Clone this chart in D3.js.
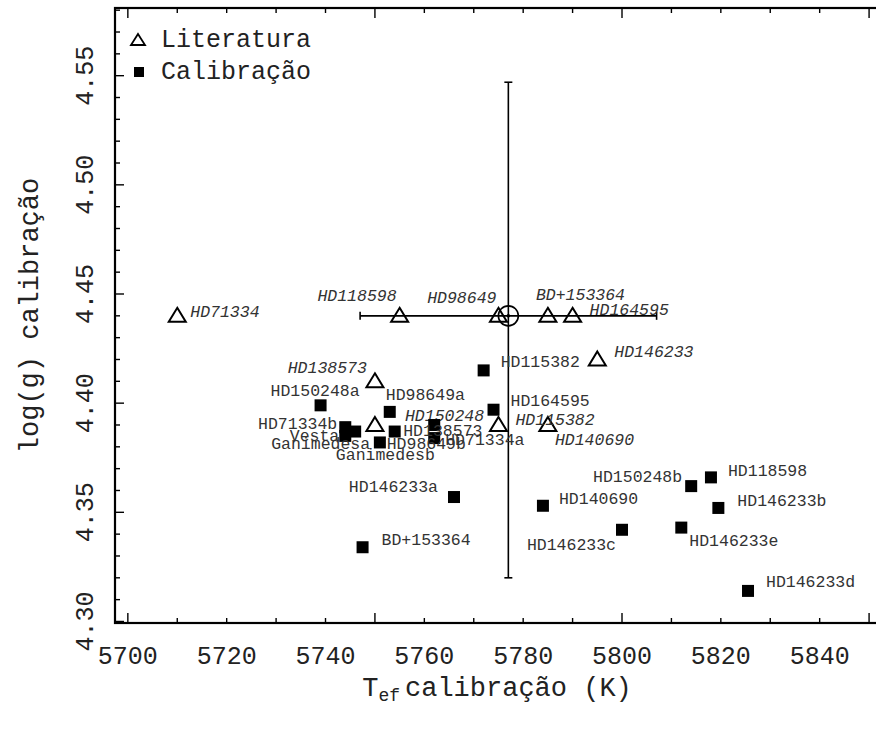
<!DOCTYPE html>
<html>
<head>
<meta charset="utf-8">
<script src="https://cdn.jsdelivr.net/npm/d3@7"></script>
<style>
  html, body { margin: 0; padding: 0; background: #fff; }
  svg { display: block; }
  text { font-family: "Liberation Mono", "DejaVu Sans Mono", monospace; }
</style>
</head>
<body>
<svg id="chart" width="876" height="730"></svg>
<script>
// Literature values (triangles)
const litNames = ["HD71334", "HD118598", "HD98649", "BD+153364", "HD164595", "HD146233",
                  "HD138573", "HD150248", "HD115382", "HD140690"];
const litTeff  = [5710, 5755, 5775, 5785, 5790, 5795, 5750, 5750, 5775, 5785];
const litLogg  = [4.44, 4.44, 4.44, 4.44, 4.44, 4.42, 4.41, 4.39, 4.39, 4.39];

// Calibrated values (filled squares)
const calNames = ["HD115382", "HD164595", "HD150248a", "HD98649a", "HD71334b", "Vesta",
                  "Ganimedesa", "Ganimedesb", "HD98649b", "HD138573", "HD71334a",
                  "HD146233a", "BD+153364", "HD140690", "HD146233c", "HD146233e",
                  "HD150248b", "HD118598", "HD146233b", "HD146233d"];
const calTeff  = [5772, 5774, 5739, 5753, 5744, 5744, 5746, 5751, 5754, 5762, 5762,
                  5766, 5747.5, 5784, 5800, 5812, 5814, 5818, 5819.5, 5825.5];
const calLogg  = [4.415, 4.397, 4.399, 4.396, 4.389, 4.385, 4.387, 4.382, 4.387, 4.390, 4.384,
                  4.357, 4.334, 4.353, 4.342, 4.343, 4.362, 4.366, 4.352, 4.314];

// Solar reference point with its uncertainty bars
const sunTeff = 5777, sunLogg = 4.44;
const sunTeffRange = [5747, 5807];
const sunLoggRange = [4.32, 4.547];

// Axis ticks
const xLabelTicks = [5700, 5720, 5740, 5760, 5780, 5800, 5820, 5840];
const xMajorTicks = [5700, 5750, 5800, 5850];
const xMinorTicks = d3.range(5700, 5851, 10);
const yLabelTicks = [4.30, 4.35, 4.40, 4.45, 4.50, 4.55];
const yMinorTicks = d3.range(430, 459, 1).map(v => v / 100);

// Label placement around each marker: [anchor, dx, dy]
const litPlace = {
  "HD71334": ["start", 13, 1], "HD118598": ["end", -3, -15], "HD98649": ["end", -2, -13],
  "BD+153364": ["start", -12, -16], "HD164595": ["start", 17, -1], "HD146233": ["start", 17, -2],
  "HD138573": ["end", -8, -8], "HD150248": ["start", 30, -4], "HD115382": ["start", 17, 0],
  "HD140690": ["start", 7, 20]
};
const calPlace = {
  "HD115382": ["start", 17, -3], "HD164595": ["start", 17, -4], "HD150248a": ["start", -50, -9],
  "HD98649a": ["start", -4, -12], "HD71334b": ["end", -8, 2], "Vesta": ["end", -6, 5],
  "Ganimedesa": ["start", -84, 17], "Ganimedesb": ["start", -44, 18], "HD98649b": ["start", -8, 17],
  "HD138573": ["start", -31, 11], "HD71334a": ["start", 11, 7], "HD146233a": ["end", -16, -5],
  "BD+153364": ["start", 19, -2], "HD140690": ["start", 16, -2], "HD146233c": ["end", -6, 20],
  "HD146233e": ["start", 8, 18], "HD150248b": ["end", -9, -4], "HD118598": ["start", 17, -1],
  "HD146233b": ["start", 19, -2], "HD146233d": ["start", 18, -4]
};

const svg = d3.select("#chart");
const plotLeft = 115, plotTop = 8, plotBottom = 623, plotRight = 876;

const x = d3.scaleLinear().domain([5697.4, 5851.4]).range([plotLeft, plotRight]);
const y = d3.scaleLinear().domain([4.2993, 4.581]).range([plotBottom, plotTop]);

// Frame (right side runs past the visible area)
svg.append("rect")
  .attr("x", plotLeft).attr("y", plotTop)
  .attr("width", plotRight + 10 - plotLeft).attr("height", plotBottom - plotTop)
  .attr("fill", "none").attr("stroke", "#000").attr("stroke-width", 2.2);

const ticks = svg.append("g").attr("stroke", "#000").attr("stroke-width", 1.4);
// x ticks on bottom and top, pointing inward
xMinorTicks.forEach(t => {
  const len = xMajorTicks.includes(t) ? 10 : 5;
  ticks.append("line").attr("x1", x(t)).attr("x2", x(t)).attr("y1", plotBottom).attr("y2", plotBottom - len);
  ticks.append("line").attr("x1", x(t)).attr("x2", x(t)).attr("y1", plotTop).attr("y2", plotTop + len);
});
// y ticks on the left, pointing inward
yMinorTicks.forEach(t => {
  const major = yLabelTicks.some(v => Math.abs(v - t) < 1e-6);
  const len = major ? 9 : 5;
  ticks.append("line").attr("x1", plotLeft).attr("x2", plotLeft + len).attr("y1", y(t)).attr("y2", y(t));
});

// Tick labels
svg.append("g").selectAll("text").data(xLabelTicks).join("text")
  .attr("x", d => x(d)).attr("y", 664)
  .attr("text-anchor", "middle").attr("font-size", 25).attr("fill", "#222")
  .text(d => d);
svg.append("g").selectAll("text").data(yLabelTicks).join("text")
  .attr("transform", d => `translate(93,${y(d)}) rotate(-90)`)
  .attr("text-anchor", "middle").attr("font-size", 25).attr("fill", "#222")
  .text(d => d.toFixed(2));

// Axis titles
const xt = svg.append("text")
  .attr("x", 497).attr("y", 696).attr("text-anchor", "middle")
  .attr("font-size", 27).attr("fill", "#222");
xt.append("tspan").text("T");
xt.append("tspan").attr("font-size", 18).attr("dy", 5).text("ef");
xt.append("tspan").attr("dx", 5).attr("dy", -5).text("calibração (K)");

svg.append("text")
  .attr("transform", `translate(38,${(plotTop + plotBottom) / 2}) rotate(-90)`)
  .attr("text-anchor", "middle").attr("font-size", 27).attr("fill", "#222")
  .text("log(g) calibração");

// Solar point with error bars
const err = svg.append("g").attr("stroke", "#000").attr("stroke-width", 1.6).attr("fill", "none");
err.append("line").attr("x1", x(sunTeffRange[0])).attr("x2", x(sunTeffRange[1]))
  .attr("y1", y(sunLogg)).attr("y2", y(sunLogg));
sunTeffRange.forEach(t => err.append("line").attr("x1", x(t)).attr("x2", x(t))
  .attr("y1", y(sunLogg) - 4).attr("y2", y(sunLogg) + 4));
err.append("line").attr("x1", x(sunTeff)).attr("x2", x(sunTeff))
  .attr("y1", y(sunLoggRange[0])).attr("y2", y(sunLoggRange[1]));
sunLoggRange.forEach(g => err.append("line").attr("x1", x(sunTeff) - 4).attr("x2", x(sunTeff) + 4)
  .attr("y1", y(g)).attr("y2", y(g)));
err.append("circle").attr("cx", x(sunTeff)).attr("cy", y(sunLogg)).attr("r", 10);
err.append("circle").attr("cx", x(sunTeff)).attr("cy", y(sunLogg)).attr("r", 1).attr("fill", "#000");

const triPath = "M0,-8L8.5,6L-8.5,6Z";

// Literature triangles and labels
const lit = litNames.map((n, i) => ({ name: n, t: litTeff[i], g: litLogg[i] }));
svg.append("g").selectAll("path").data(lit).join("path")
  .attr("d", triPath)
  .attr("transform", d => `translate(${x(d.t)},${y(d.g)})`)
  .attr("fill", "none").attr("stroke", "#000").attr("stroke-width", 2);
svg.append("g").selectAll("text").data(lit).join("text")
  .attr("x", d => x(d.t) + litPlace[d.name][1])
  .attr("y", d => y(d.g) + litPlace[d.name][2])
  .attr("text-anchor", d => litPlace[d.name][0])
  .attr("font-size", 16.5).attr("font-style", "italic").attr("fill", "#333")
  .text(d => d.name);

// Calibrated squares and labels
const cal = calNames.map((n, i) => ({ name: n, t: calTeff[i], g: calLogg[i] }));
svg.append("g").selectAll("rect").data(cal).join("rect")
  .attr("x", d => x(d.t) - 6).attr("y", d => y(d.g) - 6)
  .attr("width", 12).attr("height", 12).attr("fill", "#000");
svg.append("g").selectAll("text").data(cal).join("text")
  .attr("x", d => x(d.t) + calPlace[d.name][1])
  .attr("y", d => y(d.g) + calPlace[d.name][2])
  .attr("text-anchor", d => calPlace[d.name][0])
  .attr("font-size", 16.5).attr("fill", "#333")
  .text(d => d.name);

// Legend
const lg = svg.append("g");
lg.append("path").attr("d", "M0,-6L7,5L-7,5Z").attr("transform", "translate(138,40)")
  .attr("fill", "none").attr("stroke", "#000").attr("stroke-width", 1.8);
lg.append("text").attr("x", 161).attr("y", 47).attr("font-size", 25).attr("fill", "#222").text("Literatura");
lg.append("rect").attr("x", 134).attr("y", 67).attr("width", 10).attr("height", 10).attr("fill", "#000");
lg.append("text").attr("x", 161).attr("y", 79).attr("font-size", 25).attr("fill", "#222").text("Calibração");
</script>
</body>
</html>
